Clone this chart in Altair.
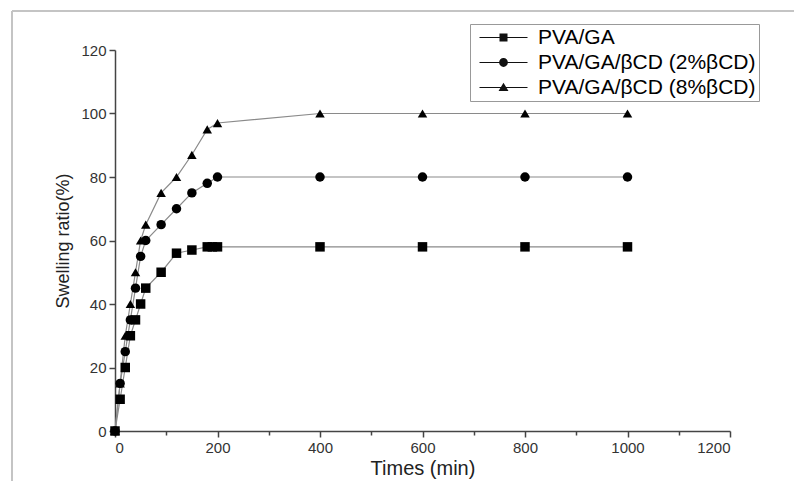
import altair as alt
import pandas as pd

series_names = ["PVA/GA", "PVA/GA/βCD (2%βCD)", "PVA/GA/βCD (8%βCD)"]

t_pva = [0, 10, 20, 30, 40, 50, 60, 90, 120, 150, 180, 190, 200, 400, 600, 800, 1000]
v_pva = [0, 10, 20, 30, 35, 40, 45, 50, 56, 57, 58, 58, 58, 58, 58, 58, 58]

t_2 = [0, 10, 20, 30, 40, 50, 60, 90, 120, 150, 180, 200, 400, 600, 800, 1000]
v_2 = [0, 15, 25, 35, 45, 55, 60, 65, 70, 75, 78, 80, 80, 80, 80, 80]

t_8 = [0, 10, 20, 30, 40, 50, 60, 90, 120, 150, 180, 200, 400, 600, 800, 1000]
v_8 = [0, 15, 30, 40, 50, 60, 65, 75, 80, 87, 95, 97, 100, 100, 100, 100]

rows = []
for name, ts, vs in zip(series_names, [t_pva, t_2, t_8], [v_pva, v_2, v_8]):
    for t, v in zip(ts, vs):
        rows.append({"series": name, "time": t, "ratio": v})
df = pd.DataFrame(rows)

FONT = "Liberation Sans"

x_enc = alt.X(
    "time:Q",
    scale=alt.Scale(domain=[0, 1200], nice=False),
    axis=alt.Axis(
        values=list(range(0, 1201, 100)),
        labelExpr="datum.value % 200 === 0 ? datum.label : ''",
        tickSize={"condition": {"test": "datum.value % 200 === 0", "value": 6}, "value": 4},
        title="Times (min)",
        titleFontSize=20,
        titleFont=FONT,
        titleFontWeight="normal",
        titleColor="#222",
        titlePadding=3,
        labelFont=FONT,
        labelFontSize=15,
        labelColor="#333",
        labelPadding=3,
        grid=False,
        domainColor="#444",
        domainWidth=1.5,
        tickColor="#444",
        tickWidth=1.5,
        labelOverlap=False,
        format="d",
    ),
)
y_enc = alt.Y(
    "ratio:Q",
    scale=alt.Scale(domain=[0, 120], nice=False),
    axis=alt.Axis(
        values=list(range(0, 121, 10)),
        labelExpr="datum.value % 20 === 0 ? datum.label : ''",
        tickSize={"condition": {"test": "datum.value % 20 === 0", "value": 6}, "value": 4},
        title="Swelling ratio(%)",
        titleFontSize=18,
        titleFont=FONT,
        titleFontWeight="normal",
        titleColor="#222",
        titlePadding=8,
        labelFont=FONT,
        labelFontSize=15,
        labelColor="#333",
        labelPadding=3,
        grid=False,
        domainColor="#444",
        domainWidth=1.5,
        tickColor="#444",
        tickWidth=1.5,
        labelOverlap=False,
    ),
)

base = alt.Chart(df)

lines = base.mark_line(color="#8a8a8a", strokeWidth=1.2).encode(
    x=x_enc, y=y_enc, detail="series:N"
)

points = base.mark_point(filled=True, color="black", size=90, opacity=1).encode(
    x="time:Q",
    y="ratio:Q",
    shape=alt.Shape(
        "series:N",
        scale=alt.Scale(domain=series_names, range=["square", "circle", "triangle-up"]),
        legend=None,
    ),
)

LINE = "M-3,-0.07L3,-0.07L3,0.07L-3,0.07Z"
legend_paths = [
    LINE + "M-0.5,-0.5L0.5,-0.5L0.5,0.5L-0.5,0.5Z",
    LINE + "M0.55,0A0.55,0.55,0,1,1,-0.55,0A0.55,0.55,0,1,1,0.55,0Z",
    LINE + "M0,-0.6L0.62,0.45L-0.62,0.45Z",
]

legend_layer = base.transform_filter("false").mark_point(
    filled=True, color="#111", opacity=1
).encode(
    shape=alt.Shape(
        "series:N",
        scale=alt.Scale(domain=series_names, range=legend_paths),
        legend=alt.Legend(
            title=None,
            orient="none",
            legendX=355,
            legendY=-26,
            strokeColor="#999",
            fillColor="white",
            padding=3,
            symbolSize=256,
            symbolFillColor="#111",
            symbolOpacity=1,
            symbolOffset=20,
            labelOffset=24,
            labelFont=FONT,
            labelFontSize=21,
            labelColor="black",
            labelLimit=400,
            rowPadding=3,
        ),
    )
)

frame_left = alt.Chart(df).mark_rule(color="#c4c4c4", strokeWidth=2).encode(
    x=alt.value(-103), y=alt.value(-39), y2=alt.value(440)
)
frame_top = alt.Chart(df).mark_rule(color="#c4c4c4", strokeWidth=2).encode(
    x=alt.value(-103), x2=alt.value(690), y=alt.value(-39)
)

chart = (
    alt.layer(frame_left, frame_top, lines, points, legend_layer)
    .resolve_scale(shape="independent")
    .properties(
        width=615,
        height=381,
        autosize=alt.AutoSizeParams(type="none"),
        padding={"left": 115, "top": 50, "right": 64, "bottom": 50},
        background="white",
    )
    .configure_view(stroke=None)
)

chart.save("out.html", embed_options={"renderer": "svg", "actions": False})
